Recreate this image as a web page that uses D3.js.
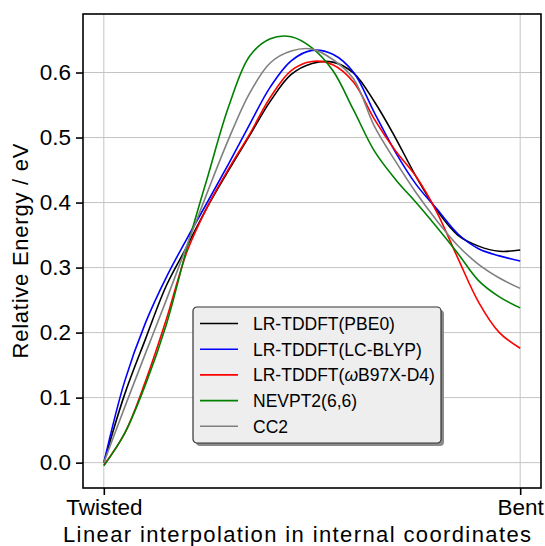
<!DOCTYPE html>
<html>
<head>
<meta charset="utf-8">
<script src="https://cdn.jsdelivr.net/npm/d3@7"></script>
<style>
  body { margin: 0; background: #fff; }
  svg { display: block; font-family: "Liberation Sans", Arial, Helvetica, sans-serif; }
  .grid line { stroke: #c4c4c4; stroke-width: 1; }
</style>
</head>
<body>
<svg width="545" height="546"></svg>
<script>
// interpolation coordinate (0 = Twisted, 1 = Bent)
const steps = [0, 0.05, 0.1, 0.15, 0.2, 0.25, 0.3, 0.35, 0.4, 0.45, 0.5,
               0.55, 0.6, 0.65, 0.7, 0.75, 0.8, 0.85, 0.9, 0.95, 1];

const pbe0   = [0, 0.105, 0.19, 0.272, 0.333, 0.395, 0.45, 0.503, 0.556, 0.597, 0.614,
                0.616, 0.599, 0.555, 0.50, 0.44, 0.388, 0.35, 0.333, 0.325, 0.327];
const lcblyp = [0, 0.125, 0.215, 0.285, 0.345, 0.402, 0.46, 0.52, 0.578, 0.618, 0.634,
                0.628, 0.60, 0.538, 0.478, 0.428, 0.39, 0.352, 0.329, 0.318, 0.310];
const wb97x  = [-0.004, 0.045, 0.125, 0.22, 0.325, 0.395, 0.452, 0.505, 0.562, 0.603, 0.617,
                0.612, 0.585, 0.528, 0.48, 0.44, 0.385, 0.315, 0.247, 0.20, 0.176];
const nevpt2 = [-0.005, 0.045, 0.12, 0.212, 0.331, 0.441, 0.548, 0.625, 0.652, 0.655, 0.638,
                0.603, 0.542, 0.479, 0.436, 0.400, 0.362, 0.322, 0.28, 0.255, 0.238];
const cc2    = [0, 0.085, 0.168, 0.25, 0.335, 0.418, 0.498, 0.568, 0.615, 0.633, 0.636,
                0.62, 0.59, 0.517, 0.464, 0.415, 0.372, 0.334, 0.305, 0.284, 0.268];

const yTicks = [0, 0.1, 0.2, 0.3, 0.4, 0.5, 0.6];
const xTicks = [0, 1];
const xTickLabels = ["Twisted", "Bent"];

const series = [
  { name: "LR-TDDFT(PBE0)", values: pbe0, color: "#000000" },
  { name: "LR-TDDFT(LC-BLYP)", values: lcblyp, color: "#0000ff" },
  { name: "LR-TDDFT(\u03c9B97X-D4)", values: wb97x, color: "#ff0000" },
  { name: "NEVPT2(6,6)", values: nevpt2, color: "#008000" },
  { name: "CC2", values: cc2, color: "#808080" }
];

const svg = d3.select("svg");

const plotL = 83, plotR = 541, plotT = 14, plotB = 488;

const x = d3.scaleLinear().domain([-0.05, 1.05]).range([plotL, plotR]);
const y = d3.scaleLinear().domain([-0.039, 0.690]).range([plotB, plotT]);

// grid
const grid = svg.append("g").attr("class", "grid");
grid.selectAll(".gy")
  .data(yTicks)
  .join("line")
  .attr("x1", plotL).attr("x2", plotR)
  .attr("y1", d => y(d)).attr("y2", d => y(d));
grid.selectAll(".gx")
  .data(xTicks)
  .join("line")
  .attr("x1", d => x(d)).attr("x2", d => x(d))
  .attr("y1", plotT).attr("y2", plotB);

// curves
const line = d3.line()
  .x((d, i) => x(steps[i]))
  .y(d => y(d))
  .curve(d3.curveCatmullRom.alpha(0.5));

svg.append("g")
  .selectAll("path")
  .data(series)
  .join("path")
  .attr("d", d => line(d.values))
  .attr("fill", "none")
  .attr("stroke", d => d.color)
  .attr("stroke-width", 1.6);

// frame
svg.append("rect")
  .attr("x", plotL).attr("y", plotT)
  .attr("width", plotR - plotL).attr("height", plotB - plotT)
  .attr("fill", "none")
  .attr("stroke", "#000")
  .attr("stroke-width", 1.6);

// axes
const yAxis = d3.axisLeft(y)
  .tickValues(yTicks)
  .tickFormat(d3.format(".1f"))
  .tickSize(7)
  .tickPadding(5);

svg.append("g")
  .attr("transform", `translate(${plotL},0)`)
  .call(yAxis)
  .call(g => g.select(".domain").remove())
  .call(g => g.selectAll("line").attr("stroke-width", 1.6))
  .call(g => g.selectAll("text").attr("font-size", 22.5).attr("font-family", null).attr("fill", "#000"));

const xAxis = d3.axisBottom(x)
  .tickValues(xTicks)
  .tickFormat((d, i) => xTickLabels[i])
  .tickSize(7)
  .tickPadding(4);

svg.append("g")
  .attr("transform", `translate(0,${plotB})`)
  .call(xAxis)
  .call(g => g.select(".domain").remove())
  .call(g => g.selectAll("line").attr("stroke-width", 1.6))
  .call(g => g.selectAll("text").attr("font-size", 22.5).attr("font-family", null).attr("fill", "#000"));

// axis labels
svg.append("text")
  .attr("x", (plotL + plotR) / 2 - 15)
  .attr("y", 542)
  .attr("text-anchor", "middle")
  .attr("font-size", 22)
  .attr("textLength", 468)
  .attr("lengthAdjust", "spacing")
  .text("Linear interpolation in internal coordinates");

svg.append("text")
  .attr("transform", `translate(28,${(plotT + plotB) / 2}) rotate(-90)`)
  .attr("text-anchor", "middle")
  .attr("font-size", 22)
  .attr("textLength", 215)
  .attr("lengthAdjust", "spacing")
  .text("Relative Energy / eV");

// legend
const lg = svg.append("g").attr("transform", "translate(193,307)");
const lgW = 248, lgH = 136, rowH = 25.7;

lg.append("rect")
  .attr("x", 3).attr("y", 3)
  .attr("width", lgW).attr("height", lgH)
  .attr("rx", 4)
  .attr("fill", "#8a8a8a");

lg.append("rect")
  .attr("width", lgW).attr("height", lgH)
  .attr("rx", 4)
  .attr("fill", "#eeeeee")
  .attr("stroke", "#333")
  .attr("stroke-width", 1.2);

const rows = lg.selectAll(".row")
  .data(series)
  .join("g")
  .attr("transform", (d, i) => `translate(0,${16.5 + i * rowH})`);

rows.append("line")
  .attr("x1", 7).attr("x2", 45)
  .attr("stroke", d => d.color)
  .attr("stroke-width", 1.6);

rows.append("text")
  .attr("x", 60)
  .attr("y", 6.5)
  .attr("font-size", 17.5)
  .each(function(d) {
    const t = d3.select(this);
    const k = d.name.indexOf("\u03c9");
    if (k < 0) { t.text(d.name); return; }
    t.append("tspan").text(d.name.slice(0, k));
    t.append("tspan").attr("font-style", "italic").text("\u03c9");
    t.append("tspan").text(d.name.slice(k + 1));
  });
</script>
</body>
</html>
